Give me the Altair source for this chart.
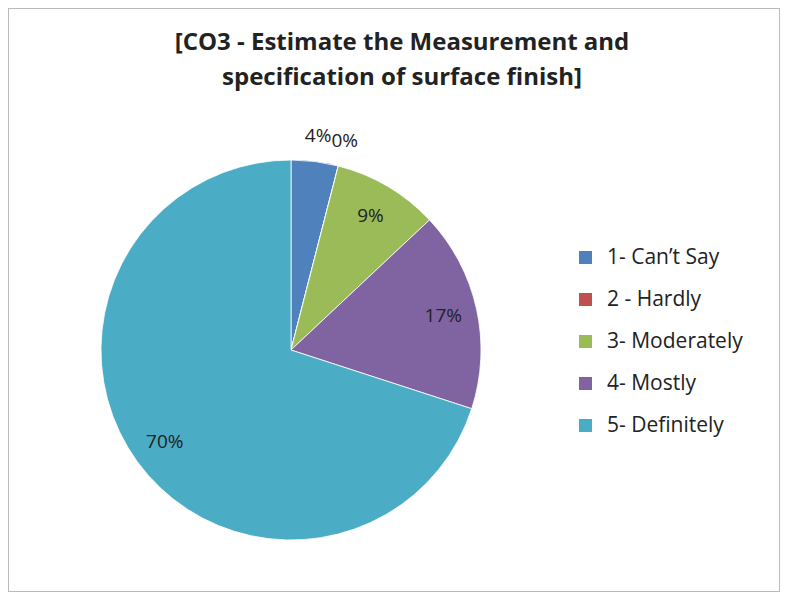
import altair as alt
import pandas as pd

categories = ["1- Can’t Say", "2 - Hardly", "3- Moderately", "4- Mostly", "5- Definitely"]
values = [4, 0, 9, 17, 70]
labels = ["4%", "0%", "9%", "17%", "70%"]
colors = ["#4F81BD", "#C0504D", "#9BBB59", "#8064A2", "#4BACC6"]
title_lines = ["[CO3 - Estimate the Measurement and", "specification of surface finish]"]

df = pd.DataFrame({
    "category": categories,
    "value": values,
    "label": labels,
    "order": list(range(len(categories))),
})

cx, cy = 283, 342
FONT = "Open Sans"

base = alt.Chart(df).encode(
    theta=alt.Theta("value:Q", stack=True),
    order=alt.Order("order:Q"),
    x=alt.value(cx),
    y=alt.value(cy),
)

pie = base.mark_arc(outerRadius=190, stroke="white", strokeWidth=0.8).encode(
    color=alt.Color(
        "category:N",
        scale=alt.Scale(domain=categories, range=colors),
        legend=alt.Legend(
            title=None,
            orient="none",
            legendX=567,
            legendY=239,
            symbolType="square",
            symbolSize=170,
            symbolStrokeWidth=0,
            labelFontSize=21,
            labelFont=FONT,
            labelColor="#222222",
            rowPadding=20,
            labelOffset=11,
        ),
    )
)

inside = base.mark_text(
    radius=156, fontSize=19, font=FONT, color="#222222"
).encode(text=alt.condition("datum.value >= 5", "label:N", alt.value("")))

outside = base.mark_text(
    radius=216, fontSize=19, font=FONT, color="#222222"
).encode(text=alt.condition("datum.value < 5", "label:N", alt.value("")))

chart = (
    alt.layer(pie, inside, outside)
    .properties(
        width=772,
        height=584,
        autosize=alt.AutoSizeParams(type="none"),
        padding=0,
        title=alt.TitleParams(
            text=title_lines,
            anchor="middle",
            font=FONT,
            fontSize=24,
            fontWeight="bold",
            color="#222222",
            lineHeight=35,
            baseline="top",
            dy=86,
            dx=8,
        ),
    )
    .configure_view(stroke="#BBBBBB", strokeWidth=2)
)

chart.save("out.html", embed_options={"renderer": "svg", "actions": False})
